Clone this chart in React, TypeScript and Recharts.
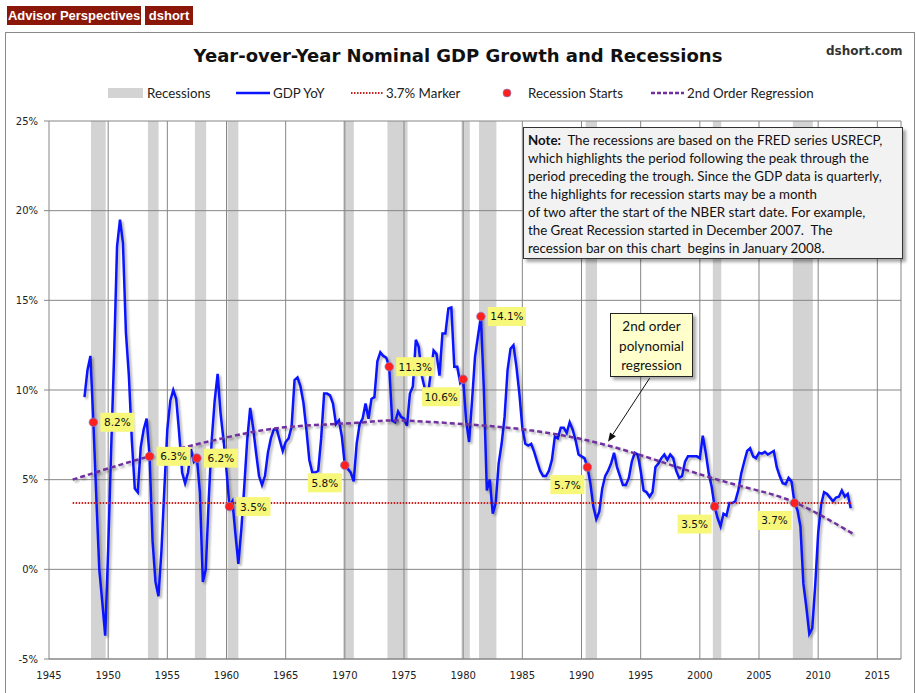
import React from "react";
import {
  ComposedChart,
  Line,
  Scatter,
  XAxis,
  YAxis,
  CartesianGrid,
  ReferenceArea,
  ReferenceLine,
} from "recharts";

// quarterly YoY nominal GDP growth (%), first value = 1948 Q1
const GDP_START = 1948;
const gdpYoY = [
  9.6, 11.1, 11.9, 8.2, // 1948
  4.0, 0.0, -1.8, -3.7,
  1.1, 6.6, 11.9, 18.0, // 1950
  19.5, 18.2, 13.2, 10.8,
  7.2, 4.5, 4.3, 6.8,
  7.8, 8.4, 6.3, 1.6,
  -0.7, -1.5, 1.0, 4.5,
  7.8, 9.4, 10.0, 9.5, // 1955
  7.6, 5.4, 4.8, 5.4,
  6.7, 6.0, 6.2, 4.3,
  -0.7, 0.0, 3.9, 7.2,
  9.4, 10.9, 8.7, 7.2,
  5.5, 3.5, 3.8, 2.0, // 1960
  0.3, 2.2, 4.6, 7.2,
  9.0, 7.9, 6.5, 5.2,
  4.7, 5.2, 6.5, 7.3,
  7.8, 7.8, 7.2, 6.6,
  7.1, 7.3, 7.95, 10.55, // 1965
  10.7, 10.2, 9.3, 7.8,
  6.1, 5.4, 5.4, 5.5,
  7.3, 9.8, 9.8, 9.7,
  9.25, 8.1, 8.3, 7.4,
  5.8, 5.6, 5.4, 4.9, // 1970
  7.0, 8.1, 8.4, 9.25,
  8.4, 9.5, 9.6, 11.6,
  12.1, 11.9, 11.8, 11.3,
  8.3, 8.2, 8.8, 8.5,
  8.4, 8.0, 9.8, 10.2, // 1975
  12.8, 12.4, 10.8, 10.1,
  9.6, 10.9, 12.2, 12.0,
  10.8, 13.15, 13.15, 14.55,
  14.6, 11.3, 11.3, 10.4,
  10.6, 8.3, 7.1, 9.4, // 1980
  11.85, 13.0, 14.1, 10.0,
  4.4, 5.0, 3.1, 3.7,
  5.9, 7.0, 8.5, 11.1,
  12.3, 12.5, 11.3, 9.8,
  7.9, 7.0, 6.9, 7.0, // 1985
  6.55, 6.0, 5.5, 5.2,
  5.2, 5.5, 6.1, 7.4,
  7.3, 7.9, 7.9, 7.6,
  8.2, 7.8, 7.2, 6.4,
  6.3, 6.2, 5.7, 4.8, // 1990
  3.5, 2.8, 3.2, 4.5,
  5.2, 5.5, 5.9, 6.5,
  5.7, 5.2, 4.7, 4.7,
  5.1, 6.0, 6.5, 6.4,
  5.5, 4.4, 4.3, 4.05, // 1995
  4.3, 5.7, 5.9, 6.2,
  6.4, 6.1, 6.4, 6.2,
  5.5, 5.1, 5.2, 6.0,
  6.3, 6.3, 6.3, 6.3,
  6.2, 7.45, 6.5, 5.35, // 2000
  4.6, 3.5, 2.85, 2.4,
  3.1, 3.0, 3.7, 3.7,
  3.8, 4.4, 5.35, 6.0,
  6.6, 6.75, 6.3, 6.2,
  6.5, 6.45, 6.55, 6.4, // 2005
  6.5, 6.6, 5.7, 5.2,
  4.8, 4.75, 5.1, 4.9,
  3.7, 3.3, 2.4, -0.8,
  -2.1, -3.6, -3.3, -0.9,
  2.0, 3.6, 4.3, 4.2, // 2010
  4.0, 3.8, 4.0, 4.05,
  4.4, 4.05, 4.2, 3.4,
];

const recessionStarts = [1948.55, 1953.36, 1957.33, 1960.09, 1969.86, 1973.6, 1979.86, 1981.34, 1990.35, 2001.1, 2007.86];
const recessionEnds = [1949.79, 1954.26, 1958.28, 1961.0, 1970.76, 1975.3, 1980.56, 1982.81, 1991.31, 2001.81, 2009.55];

const startMarkerYears = [1948.75, 1953.5, 1957.5, 1960.25, 1970.0, 1973.75, 1980.0, 1981.5, 1990.5, 2001.25, 2008.0];
const startMarkerValues = [8.2, 6.3, 6.2, 3.5, 5.8, 11.3, 10.6, 14.1, 5.7, 3.5, 3.7];

const regressionYears = [1947, 1953.5, 1960.3, 1965.4, 1971, 1974.4, 1980, 1985.6, 1992.1, 1998.9, 2004, 2008.1, 2012.9];
const regressionValues = [5.0, 6.3, 7.4, 7.95, 8.17, 8.3, 8.1, 7.76, 6.93, 5.53, 4.55, 3.71, 2.0];

const MARKER_LEVEL = 3.7;
const markerYears = [1947, 2012.9];

const xTicks = [1945, 1950, 1955, 1960, 1965, 1970, 1975, 1980, 1985, 1990, 1995, 2000, 2005, 2010, 2015];
const yTicks = [-5, 0, 5, 10, 15, 20, 25];

const noteLines = [
  "which highlights the period following the peak through the",
  "period preceding the trough. Since the GDP data is quarterly,",
  "the highlights for recession starts may be a month",
  "of two after the start of the NBER start date. For example,",
  "the Great Recession started in December 2007.  The",
  "recession bar on this chart  begins in January 2008.",
];

// labels drawn under-left of the dot instead of to the right
const labelBelow = new Set([1970.0, 1980.0, 1990.5, 2001.25, 2008.0]);

const gdpData = gdpYoY.map((v, i) => ({ x: GDP_START + i / 4, y: v }));
const startData = startMarkerYears.map((x, i) => ({ x, y: startMarkerValues[i] }));
const regressionData = regressionYears.map((x, i) => ({ x, y: regressionValues[i] }));
const markerData = markerYears.map((x) => ({ x, y: MARKER_LEVEL }));

const TICK_FONT = { fontFamily: "DejaVu Sans", fontSize: 10, fill: "#222" };
const GRID = "#868686";

function StartMarker(props: any) {
  const { cx, cy, payload } = props;
  if (cx == null || cy == null) return null;
  const text = `${payload.y.toFixed(1)}%`;
  const w = 18 + 4 * text.length;
  const h = 19;
  const below = labelBelow.has(payload.x);
  const bx = below ? cx - 3 - w : cx + 7;
  const by = below ? cy + 8 : cy - h / 2;
  return (
    <g>
      <rect x={bx} y={by} width={w} height={h} fill="#f7f77a" />
      <text
        x={bx + w / 2}
        y={by + h / 2 + 4}
        textAnchor="middle"
        fontFamily="DejaVu Sans"
        fontSize={10.5}
        fill="#111"
      >
        {text}
      </text>
      <circle cx={cx} cy={cy} r={4.3} fill="#ff1f1f" stroke="#8a7fc0" strokeWidth={0.7} />
    </g>
  );
}

function Arrow(props: any) {
  const { x1, y1, x2, y2 } = props;
  if (x1 == null) return null;
  const a = Math.atan2(y2 - y1, x2 - x1);
  const L = 9;
  const W = 3.5;
  const bx = x2 - L * Math.cos(a);
  const by = y2 - L * Math.sin(a);
  const px = -Math.sin(a) * W;
  const py = Math.cos(a) * W;
  return (
    <g>
      <line x1={x1} y1={y1} x2={bx} y2={by} stroke="#111" strokeWidth={1} />
      <polygon points={`${x2},${y2} ${bx + px},${by + py} ${bx - px},${by - py}`} fill="#111" />
    </g>
  );
}

function Legend() {
  const txt = { fontFamily: "Lato", fontSize: 13.3, fill: "#222" };
  return (
    <svg width={916} height={24} style={{ position: "absolute", left: 0, top: 81 }}>
      <rect x={108} y={7} width={35} height={10} fill="#d3d3d3" />
      <text x={147} y={16.5} {...txt}>Recessions</text>
      <line x1={236} y1={12} x2={270} y2={12} stroke="#0a14ff" strokeWidth={2.5} />
      <text x={273} y={16.5} {...txt}>GDP YoY</text>
      <line x1={351} y1={12} x2={383} y2={12} stroke="#c8201c" strokeWidth={2} strokeDasharray="1.5 1.5" />
      <text x={386} y={16.5} {...txt}>3.7% Marker</text>
      <circle cx={507} cy={12} r={4} fill="#ff1f1f" stroke="#8a7fc0" strokeWidth={0.7} />
      <text x={528} y={16.5} {...txt}>Recession Starts</text>
      <line x1={651} y1={12} x2={684} y2={12} stroke="#7030a0" strokeWidth={2.5} strokeDasharray="4 2" />
      <text x={687} y={16.5} {...txt}>2nd Order Regression</text>
    </svg>
  );
}

const TAG = {
  position: "absolute" as const,
  top: 6,
  height: 19,
  background: "#8b1708",
  color: "#fff",
  fontFamily: "Liberation Sans",
  fontWeight: "bold" as const,
  fontSize: 13,
  lineHeight: "19px",
  textAlign: "center" as const,
  whiteSpace: "nowrap" as const,
};

export default function App() {
  return (
    <div
      style={{
        position: "absolute",
        left: 0,
        top: 0,
        width: 916,
        height: 693,
        overflow: "hidden",
        background: "#fff",
        fontFamily: "Lato",
      }}
    >
      <style>{".gdp-line, .reg-line { filter: drop-shadow(2px 2px 1.2px rgba(0,0,0,0.3)); }"}</style>
      {/* header tags */}
      <div style={{ ...TAG, left: 7, width: 134 }}>Advisor Perspectives</div>
      <div style={{ ...TAG, left: 145, width: 48 }}>dshort</div>
      {/* frame */}
      <div style={{ position: "absolute", left: 5, top: 32, width: 908, height: 680, border: "1px solid #8a8a8a" }} />

      <div style={{ position: "absolute", left: 0, top: 0 }}>
        <ComposedChart width={916} height={693} margin={{ top: 121, right: 15, bottom: 9, left: 9 }}>
          {recessionStarts.map((s, i) => (
            <ReferenceArea
              key={s}
              x1={s}
              x2={recessionEnds[i]}
              fill="#d3d3d3"
              fillOpacity={1}
              stroke="none"
              zIndex={-200}
            />
          ))}
          <CartesianGrid stroke={GRID} strokeWidth={1} />
          <XAxis
            type="number"
            dataKey="x"
            domain={[1945, 2017]}
            ticks={xTicks}
            allowDataOverflow
            height={25}
            tick={TICK_FONT}
            tickLine={false}
            tickMargin={7}
            axisLine={{ stroke: GRID }}
          />
          <YAxis
            type="number"
            dataKey="y"
            domain={[-5, 25]}
            ticks={yTicks}
            allowDataOverflow
            width={40}
            tick={TICK_FONT}
            tickSize={5}
            tickMargin={6}
            tickLine={{ stroke: GRID }}
            axisLine={false}
            tickFormatter={(v) => `${v}%`}
          />
          <Line
            data={gdpData}
            dataKey="y"
            className="gdp-line"
            stroke="#0a14ff"
            strokeWidth={2.5}
            dot={false}
            activeDot={false}
            type="linear"
            isAnimationActive={false}
          />
          <Line
            data={markerData}
            dataKey="y"
            stroke="#c8201c"
            strokeWidth={2}
            strokeDasharray="1.5 1.5"
            dot={false}
            activeDot={false}
            isAnimationActive={false}
          />
          <Line
            data={regressionData}
            dataKey="y"
            className="reg-line"
            stroke="#7030a0"
            strokeWidth={2.5}
            strokeDasharray="5 3"
            type="natural"
            dot={false}
            activeDot={false}
            isAnimationActive={false}
          />
          <ReferenceLine
            segment={[
              { x: 1995.76, y: 10.66 },
              { x: 1992.24, y: 7.11 },
            ]}
            shape={Arrow}
          />
          <Scatter data={startData} dataKey="y" shape={StartMarker} isAnimationActive={false} />
        </ComposedChart>
      </div>

      {/* title */}
      <div style={{ position: "absolute", left: 0, top: 45, width: 916, textAlign: "center", fontFamily: "DejaVu Sans", fontWeight: "bold", fontSize: 18, color: "#111" }}>
        Year-over-Year Nominal GDP Growth and Recessions
      </div>
      <div style={{ position: "absolute", left: 826, top: 44, fontFamily: "DejaVu Sans", fontWeight: "bold", fontSize: 12, color: "#333" }}>
        dshort.com
      </div>
      <Legend />

      {/* note box */}
      <div
        style={{
          position: "absolute",
          left: 523,
          top: 127,
          width: 370,
          height: 124,
          padding: "3px 4px",
          background: "#f2f2f2",
          border: "1px solid #333",
          boxShadow: "3px 3px 3px rgba(0,0,0,0.35)",
          fontFamily: "Lato",
          fontSize: 13.3,
          lineHeight: "18px",
          color: "#111",
          whiteSpace: "pre",
        }}
      >
        <div>
          <b>Note:</b>
          {"  The recessions are based on the FRED series USRECP,"}
        </div>
        {noteLines.map((l) => (
          <div key={l}>{l}</div>
        ))}
      </div>

      {/* regression callout */}
      <div
        style={{
          position: "absolute",
          left: 610,
          top: 313,
          width: 83,
          height: 64,
          background: "#ffffcc",
          border: "1px solid #222",
          boxShadow: "3px 3px 3px rgba(0,0,0,0.35)",
          fontFamily: "Lato",
          fontSize: 13.5,
          lineHeight: "19.5px",
          textAlign: "center",
          color: "#111",
          paddingTop: 3,
          boxSizing: "border-box",
        }}
      >
        2nd order
        <br />
        polynomial
        <br />
        regression
      </div>
    </div>
  );
}
